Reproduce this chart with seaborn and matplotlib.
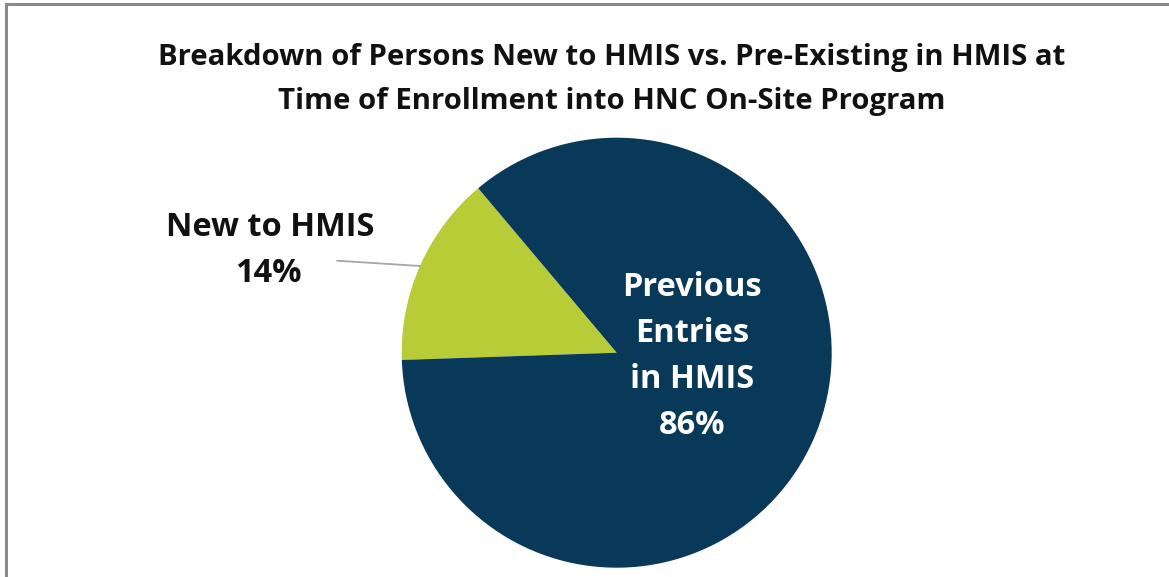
import matplotlib
matplotlib.use("Agg")
import matplotlib.pyplot as plt
import seaborn as sns

# ---- data ----
categories = ["New to HMIS", "Previous Entries in HMIS"]
shares = [14.4, 85.6]
label_lines = [["New to HMIS"], ["Previous", "Entries", "in HMIS"]]
title_lines = ["Breakdown of Persons New to HMIS vs. Pre-Existing in HMIS at",
               "Time of Enrollment into HNC On-Site Program"]
colors = ["#B7CC37", "#083959"]

sns.set_theme(style="white")
plt.rcParams['font.family'] = ['Open Sans', 'DejaVu Sans']

W, H = 1169, 577
fig = plt.figure(figsize=(W / 100, H / 100), dpi=100)
ax = fig.add_axes([0, 0, 1, 1])

cx, cy, r = 616.7, H - 352.7, 215
ax.pie(shares, colors=colors, startangle=130.1, counterclock=True,
       center=(cx, cy), radius=r, frame=True,
       wedgeprops=dict(linewidth=0))
ax.set_xlim(0, W)
ax.set_ylim(0, H)
ax.axis("off")

# border (top and left)
ax.plot([6, 6, W], [0, H - 3.5, H - 3.5], color="#8A8A8A", lw=2.2,
        solid_capstyle="butt", solid_joinstyle="miter", clip_on=False)

# title
ax.text(612, H - 58, title_lines[0], ha="center", va="center",
        fontsize=21.2, fontweight="bold", color="#111111")
ax.text(612, H - 101, title_lines[1], ha="center", va="center",
        fontsize=21.2, fontweight="bold", color="#111111")

# outside label for small slice
ax.text(270, H - 228, label_lines[0][0], ha="center", va="center",
        fontsize=23.5, fontweight="bold", color="#111111")
ax.text(268, H - 274, f"{shares[0]:.0f}%", ha="center", va="center",
        fontsize=23.5, fontweight="bold", color="#111111")
ax.plot([337, 420], [H - 260.7, H - 266], color="#A6A6A6", lw=1.3)

# inside label for large slice
inner = label_lines[1] + [f"{shares[1]:.0f}%"]
ys = [287, 333, 380, 426]
for t, y in zip(inner, ys):
    ax.text(692, H - y, t, ha="center", va="center",
            fontsize=23.5, fontweight="bold", color="white")

fig.savefig("out.png", dpi=100, facecolor="white")
